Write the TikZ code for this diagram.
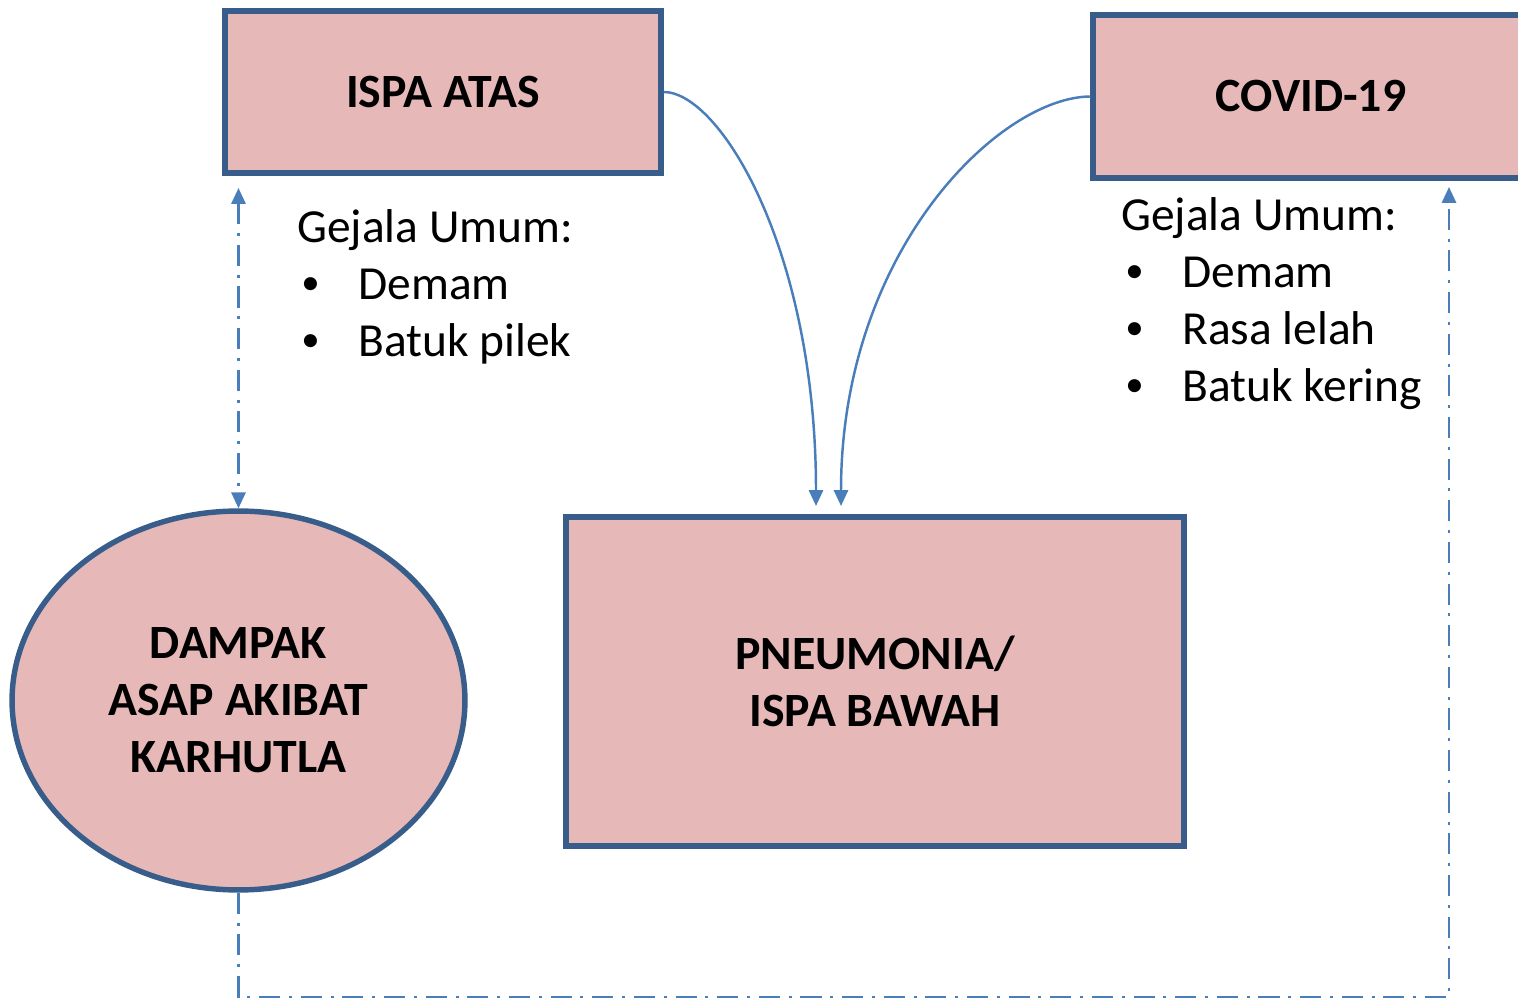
\documentclass[tikz,border=0pt]{standalone}
\usepackage{fontspec}
\setmainfont{Carlito}
\usetikzlibrary{arrows.meta,shapes.geometric}
\definecolor{boxfill}{HTML}{E6B9B8}
\definecolor{boxline}{HTML}{385D8A}
\definecolor{linkblue}{HTML}{4A7EBB}

\begin{document}
\begin{tikzpicture}[x=0.02cm, y=-0.02cm,
  every node/.style={font=\fontsize{27}{32.4}\selectfont},
  kotak/.style={draw=boxline, line width=3.1pt, fill=boxfill, align=center, font=\fontsize{27.2}{32.4}\selectfont\bfseries},
  gejala/.style={anchor=north west, inner sep=0pt, align=left},
  link/.style={linkblue, line width=1.4pt, -{Triangle[width=8pt,length=9pt]}},
  titik/.style={linkblue, line width=1.4pt, dash pattern=on 12pt off 5pt on 1.7pt off 5pt}]
\useasboundingbox (0,0) rectangle (1518,999);
\clip (0,0) rectangle (1518,999);
\newcommand{\butir}{\makebox[1.22cm][l]{\hspace{0.08cm}\raisebox{0.1em}{\fontsize{21}{21}\selectfont\textbullet}}}
% kotak utama
\node[kotak, minimum width=8.72cm, minimum height=3.24cm] (ispa) at (443,92) {ISPA ATAS};
\node[kotak, minimum width=8.72cm, minimum height=3.26cm] (covid) at (1311,96.5) {COVID-19};
\node[kotak, minimum width=12.36cm, minimum height=6.58cm] (pneu) at (875,681.5) {PNEUMONIA/\\ISPA BAWAH};
\node[kotak, ellipse, inner sep=0pt, minimum width=9.06cm, minimum height=7.58cm] (asap) at (238.5,700.5) {DAMPAK\\ASAP AKIBAT\\KARHUTLA};
% gejala
\node[gejala] (gejala1) at (297,209) {Gejala Umum:\\\butir Demam\\\butir Batuk pilek};
\node[gejala] (gejala2) at (1121,197) {Gejala Umum:\\\butir Demam\\\butir Rasa lelah\\\butir Batuk kering};
% panah
\coordinate (masuk1) at (816,506);
\coordinate (masuk2) at (841,506);
\draw[link] (ispa.east) .. controls (720,92) and (816,250) .. (masuk1);
\draw[link] (covid.west) .. controls (1000,97) and (841,250) .. (masuk2);
\coordinate (atas1) at (238.5,188);
\draw[titik, {Triangle[width=8pt,length=9pt]}-{Triangle[width=8pt,length=9pt]}] (atas1) -- (asap.north);
\coordinate (bawah) at (1449,997);
\coordinate (atas2) at (1449,187);
\draw[titik, -{Triangle[width=8pt,length=9pt]}] (asap.south) |- (bawah) -- (atas2);
\end{tikzpicture}
\end{document}
